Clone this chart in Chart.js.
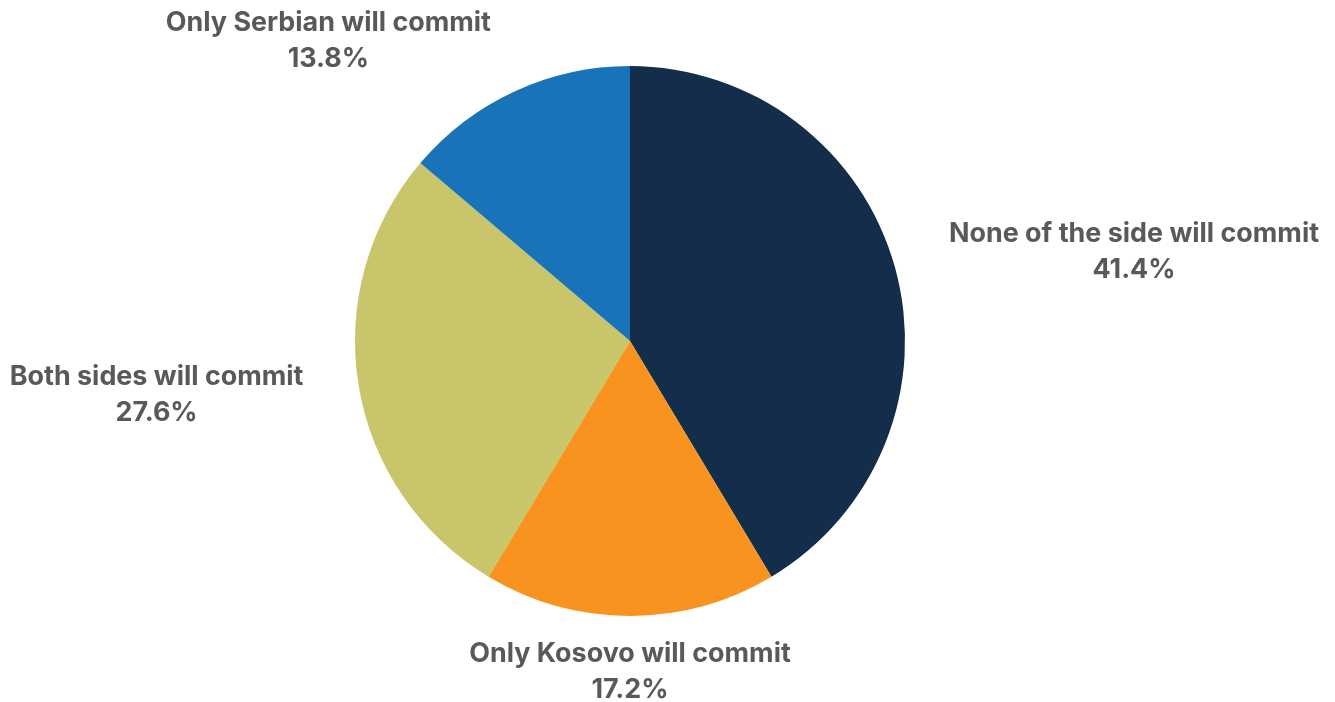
<!DOCTYPE html>
<html>
<head>
<meta charset="utf-8">
<script src="https://cdn.jsdelivr.net/npm/chart.js@4/dist/chart.umd.min.js"></script>
<style>
  html, body { margin: 0; padding: 0; background: #fff; }
  #wrap { width: 1335px; height: 702px; }
</style>
</head>
<body>
<div id="wrap"><canvas id="pie_chart"></canvas></div>
<script>
const labels = [
  'None of the side will commit',
  'Only Kosovo will commit',
  'Both sides will commit',
  'Only Serbian will commit'
];
const values = [41.4, 17.2, 27.6, 13.8];
const colors = ['#132d4b', '#f7931e', '#c9c56b', '#1873b8'];

// draws "name / pct%" outside each slice, aligned by which side of the pie it sits on
const outside_labels = {
  id: 'outside_labels',
  afterDatasetsDraw(chart) {
    const ctx = chart.ctx;
    const meta = chart.getDatasetMeta(0);
    ctx.save();
    ctx.fillStyle = '#595959';
    ctx.font = 'bold 26.9px Inter';
    const line_h = 36;
    meta.data.forEach((arc, i) => {
      const mid = (arc.startAngle + arc.endAngle) / 2;
      const dx = Math.cos(mid);
      const dy = Math.sin(mid);
      const r = arc.outerRadius + 28;
      let x = arc.x + dx * r;
      let y = arc.y + dy * r;
      const gap = 28 * Math.abs(dx);
      let align = 'center';
      if (dx > 0.3) { align = 'left'; x += gap; }
      else if (dx < -0.3) { align = 'right'; x -= gap; }
      let top;
      if (dy < -0.5) top = y - line_h * 2 + 11;
      else if (dy > 0.5) top = y - 8;
      else top = y - line_h + dy * 30;
      // text block is centred on its own width for both lines
      const w = Math.max(ctx.measureText(labels[i]).width, ctx.measureText(values[i] + '%').width);
      let cx = x;
      if (align === 'left') cx = x + w / 2;
      if (align === 'right') cx = x - w / 2;
      ctx.textAlign = 'center';
      ctx.textBaseline = 'middle';
      ctx.fillText(labels[i], cx, top + line_h / 2);
      ctx.fillText(values[i].toFixed(1) + '%', cx, top + line_h * 1.5);
    });
    ctx.restore();
  }
};

new Chart(document.getElementById('pie_chart'), {
  type: 'pie',
  data: {
    labels: labels,
    datasets: [{
      data: values,
      backgroundColor: colors,
      borderWidth: 0
    }]
  },
  options: {
    responsive: true,
    maintainAspectRatio: false,
    animation: false,
    layout: {
      padding: { left: 355, right: 430, top: 66, bottom: 86 }
    },
    plugins: {
      legend: { display: false },
      tooltip: { enabled: false }
    }
  },
  plugins: [outside_labels]
});
</script>
</body>
</html>
